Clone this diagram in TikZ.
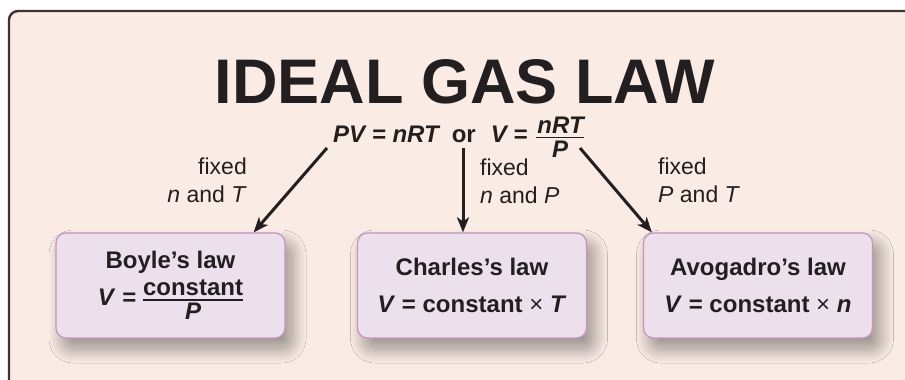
\documentclass[tikz,border=0pt]{standalone}
\usepackage{fontspec}
\setmainfont{Liberation Sans}
\usepackage{tikz}
\usetikzlibrary{calc,arrows.meta,shadows.blur}
\definecolor{gasbg}{RGB}{250,235,228}
\definecolor{lawfill}{RGB}{237,224,237}
\definecolor{lawedge}{RGB}{196,150,192}
\definecolor{gasink}{RGB}{35,31,32}
\newcommand{\gasfrac}[4]{\raisebox{#1}{\vtop{\halign{\hfil##\hfil\cr#2\cr\noalign{\kern3.5pt\hrule height 1.7pt\kern#4}#3\cr}}}}

\begin{document}
\begin{tikzpicture}[x=1pt,y=-1pt,
  lawbox/.style={draw=lawedge,line width=1.3pt,fill=lawfill,rounded corners=10pt,minimum width=229pt,minimum height=105pt,align=center,text=gasink,font=\fontsize{24}{37}\selectfont\bfseries,blur shadow={shadow xshift=7pt,shadow yshift=-11pt,shadow blur radius=14pt,shadow blur steps=16,shadow opacity=40}},
  fixtxt/.style={inner sep=0pt,text=gasink,font=\fontsize{23}{28}\selectfont},
  gasarrow/.style={line width=3pt,gasink,-{Stealth[length=15pt,width=12pt,inset=4pt]}}]
\useasboundingbox(0,0)rectangle(905,380);
\clip(0,0)rectangle(905,380);
\draw[fill=gasbg,draw=gasink!90,line width=2.4pt,rounded corners=9pt](9,11)rectangle(960,430);
\node[anchor=base,inner sep=0pt,text=gasink,font=\fontsize{63}{63}\selectfont\bfseries](title)at(465,103){IDEAL GAS LAW};
\node[anchor=base west,inner sep=0pt,text=gasink,font=\fontsize{24}{24}\selectfont\bfseries\itshape](law)at(333,142){PV = nRT\hspace{13pt}\upshape or\hspace{15pt}\itshape V =\hspace{9pt}\gasfrac{9pt}{\hspace{1pt}nRT}{P}{2.5pt}};
\coordinate(fromPV)at(327,148);\coordinate(fromOr)at(463,148);\coordinate(fromFrac)at(580,148);
\node[lawbox](boyle)at(170.5,285.5){Boyle’s law\\\textit{V} = \gasfrac{10pt}{constant}{\itshape P}{2pt}};
\node[lawbox](charles)at(472,285.5){Charles’s law\\\textit{V} = constant \textmd{×} \textit{T}};
\node[lawbox](avogadro)at(758,285.5){Avogadro’s law\\\textit{V} = constant \textmd{×} \textit{n}};
\draw[gasarrow](fromPV)--($(boyle.north east)+(-32,0)$);
\draw[gasarrow](fromOr)--($(charles.north)+(-9,0)$);
\draw[gasarrow](fromFrac)--($(avogadro.north west)+(9,0)$);
\node[fixtxt,anchor=north east,align=right](fixNT)at(247,158){fixed\\\textit{n} and \textit{T}};
\node[fixtxt,anchor=north west,align=left](fixNP)at(480,159){fixed\\\textit{n} and \textit{P}};
\node[fixtxt,anchor=north west,align=left](fixPT)at(658,158){fixed\\\textit{P} and \textit{T}};
\end{tikzpicture}
\end{document}
